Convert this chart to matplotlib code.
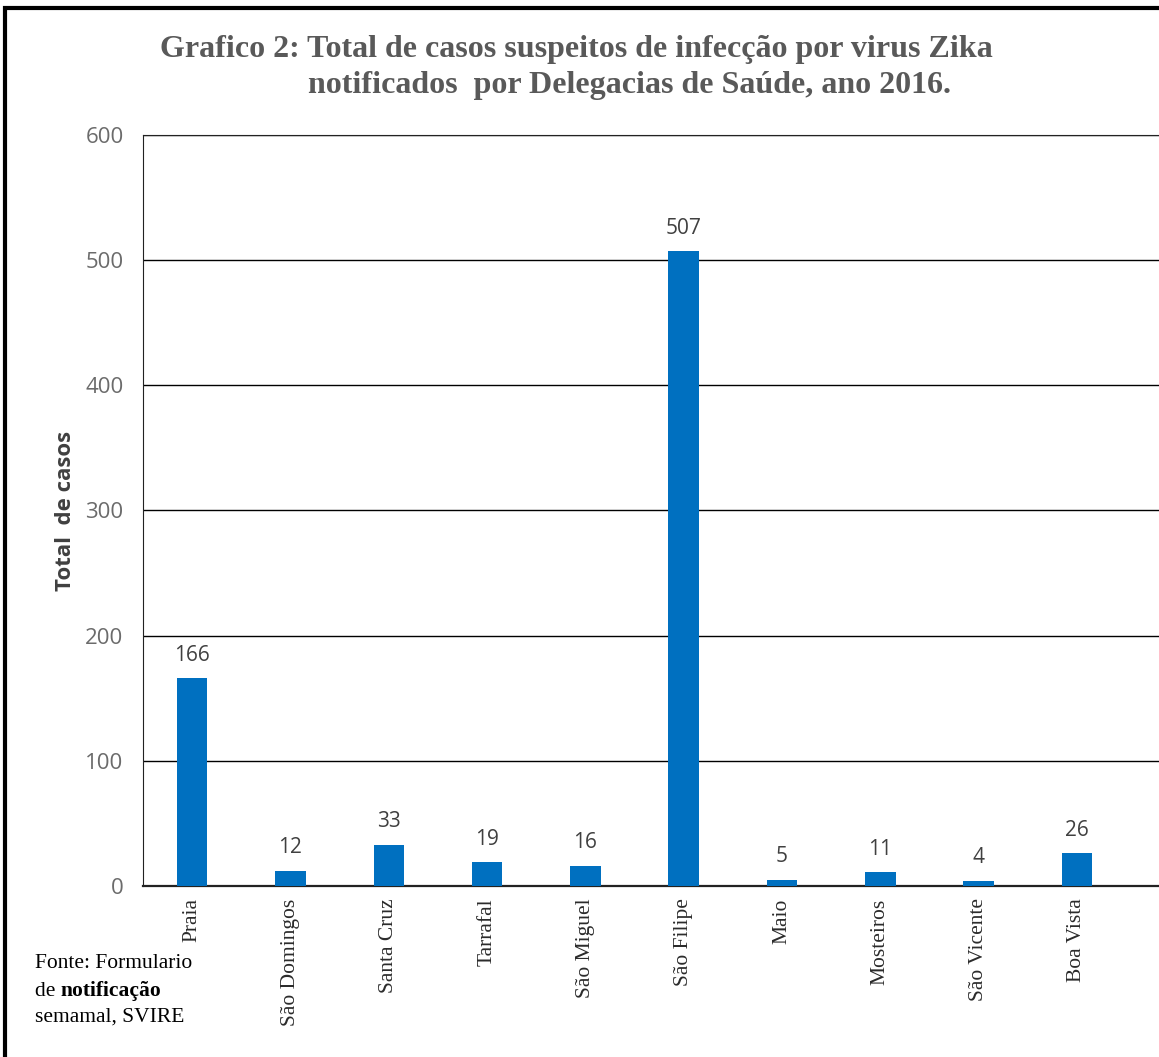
import matplotlib.pyplot as plt
from matplotlib.patches import Rectangle

# dados
delegacias = ['Praia', 'São Domingos', 'Santa Cruz', 'Tarrafal', 'São Miguel',
              'São Filipe', 'Maio', 'Mosteiros', 'São Vicente', 'Boa Vista']
casos = [166, 12, 33, 19, 16, 507, 5, 11, 4, 26]
yticks = [0, 100, 200, 300, 400, 500, 600]

fig = plt.figure(figsize=(11.59, 10.57), dpi=100)
ax = fig.add_axes([0.1234, 0.1618, 0.933, 0.7105])

x = range(len(delegacias))
bars = ax.bar(x, casos, width=0.31, color='#0070C0', zorder=3)

ax.set_xlim(-0.5, 10.5)
ax.set_ylim(0, 600)
ax.set_yticks(yticks)
ax.set_yticklabels([str(v) for v in yticks], family='Open Sans', fontsize=16, color='#6b6b6b')
ax.tick_params(axis='y', length=0, pad=14)
ax.tick_params(axis='x', length=0, pad=9)
ax.set_xticks(list(x))
ax.set_xticklabels(delegacias, rotation=90, family='Liberation Serif', fontsize=15.5,
                   color='#2b2b2b', va='top')

ax.grid(axis='y', color='black', linewidth=1.0, zorder=0)
ax.spines['right'].set_visible(False)
ax.spines['left'].set_color('#222222')
ax.spines['top'].set_color('#222222')
ax.spines['bottom'].set_linewidth(1.6)
ax.spines['bottom'].set_color('#222222')

for b, v in zip(bars, casos):
    ax.annotate(str(v), (b.get_x() + b.get_width() / 2, v), xytext=(0, 9),
                textcoords='offset points', ha='center', va='bottom',
                family='Open Sans', fontsize=15, color='#404040')

ax.set_ylabel('Total  de casos', family='Open Sans', fontsize=16, fontweight='bold',
              color='#404040')
ax.yaxis.set_label_coords(-0.062, 0.5)

# titulo
fig.text(160 / 1159, 1 - 49 / 1057, 'Grafico 2: Total de casos suspeitos de infecção por virus Zika',
         family='Liberation Serif', fontweight='bold', fontsize=23, color='#595959', va='center')
fig.text(308 / 1159, 1 - 86 / 1057, 'notificados  por Delegacias de Saúde, ano 2016.',
         family='Liberation Serif', fontweight='bold', fontsize=23, color='#595959', va='center')

# fonte
fig.text(35 / 1159, 1 - 963 / 1057, 'Fonte: Formulario', family='Liberation Serif',
         fontsize=15.5, color='black', va='center')
t = fig.text(35 / 1159, 1 - 991 / 1057, 'de ', family='Liberation Serif',
             fontsize=15.5, color='black', va='center')
fig.canvas.draw()
bb = t.get_window_extent(renderer=fig.canvas.get_renderer())
fig.text(bb.x1 / fig.bbox.width, 1 - 991 / 1057, 'notificação', family='Liberation Serif',
         fontsize=15.5, fontweight='bold', color='black', va='center')
fig.text(35 / 1159, 1 - 1017 / 1057, 'semamal, SVIRE', family='Liberation Serif',
         fontsize=15.5, color='black', va='center')

# moldura
fig.patches.append(Rectangle((5 / 1159, -0.1), 1.2, 1.1 - 8 / 1057, transform=fig.transFigure,
                             fill=False, edgecolor='black', linewidth=3, figure=fig))

fig.savefig('out.png', dpi=100)
